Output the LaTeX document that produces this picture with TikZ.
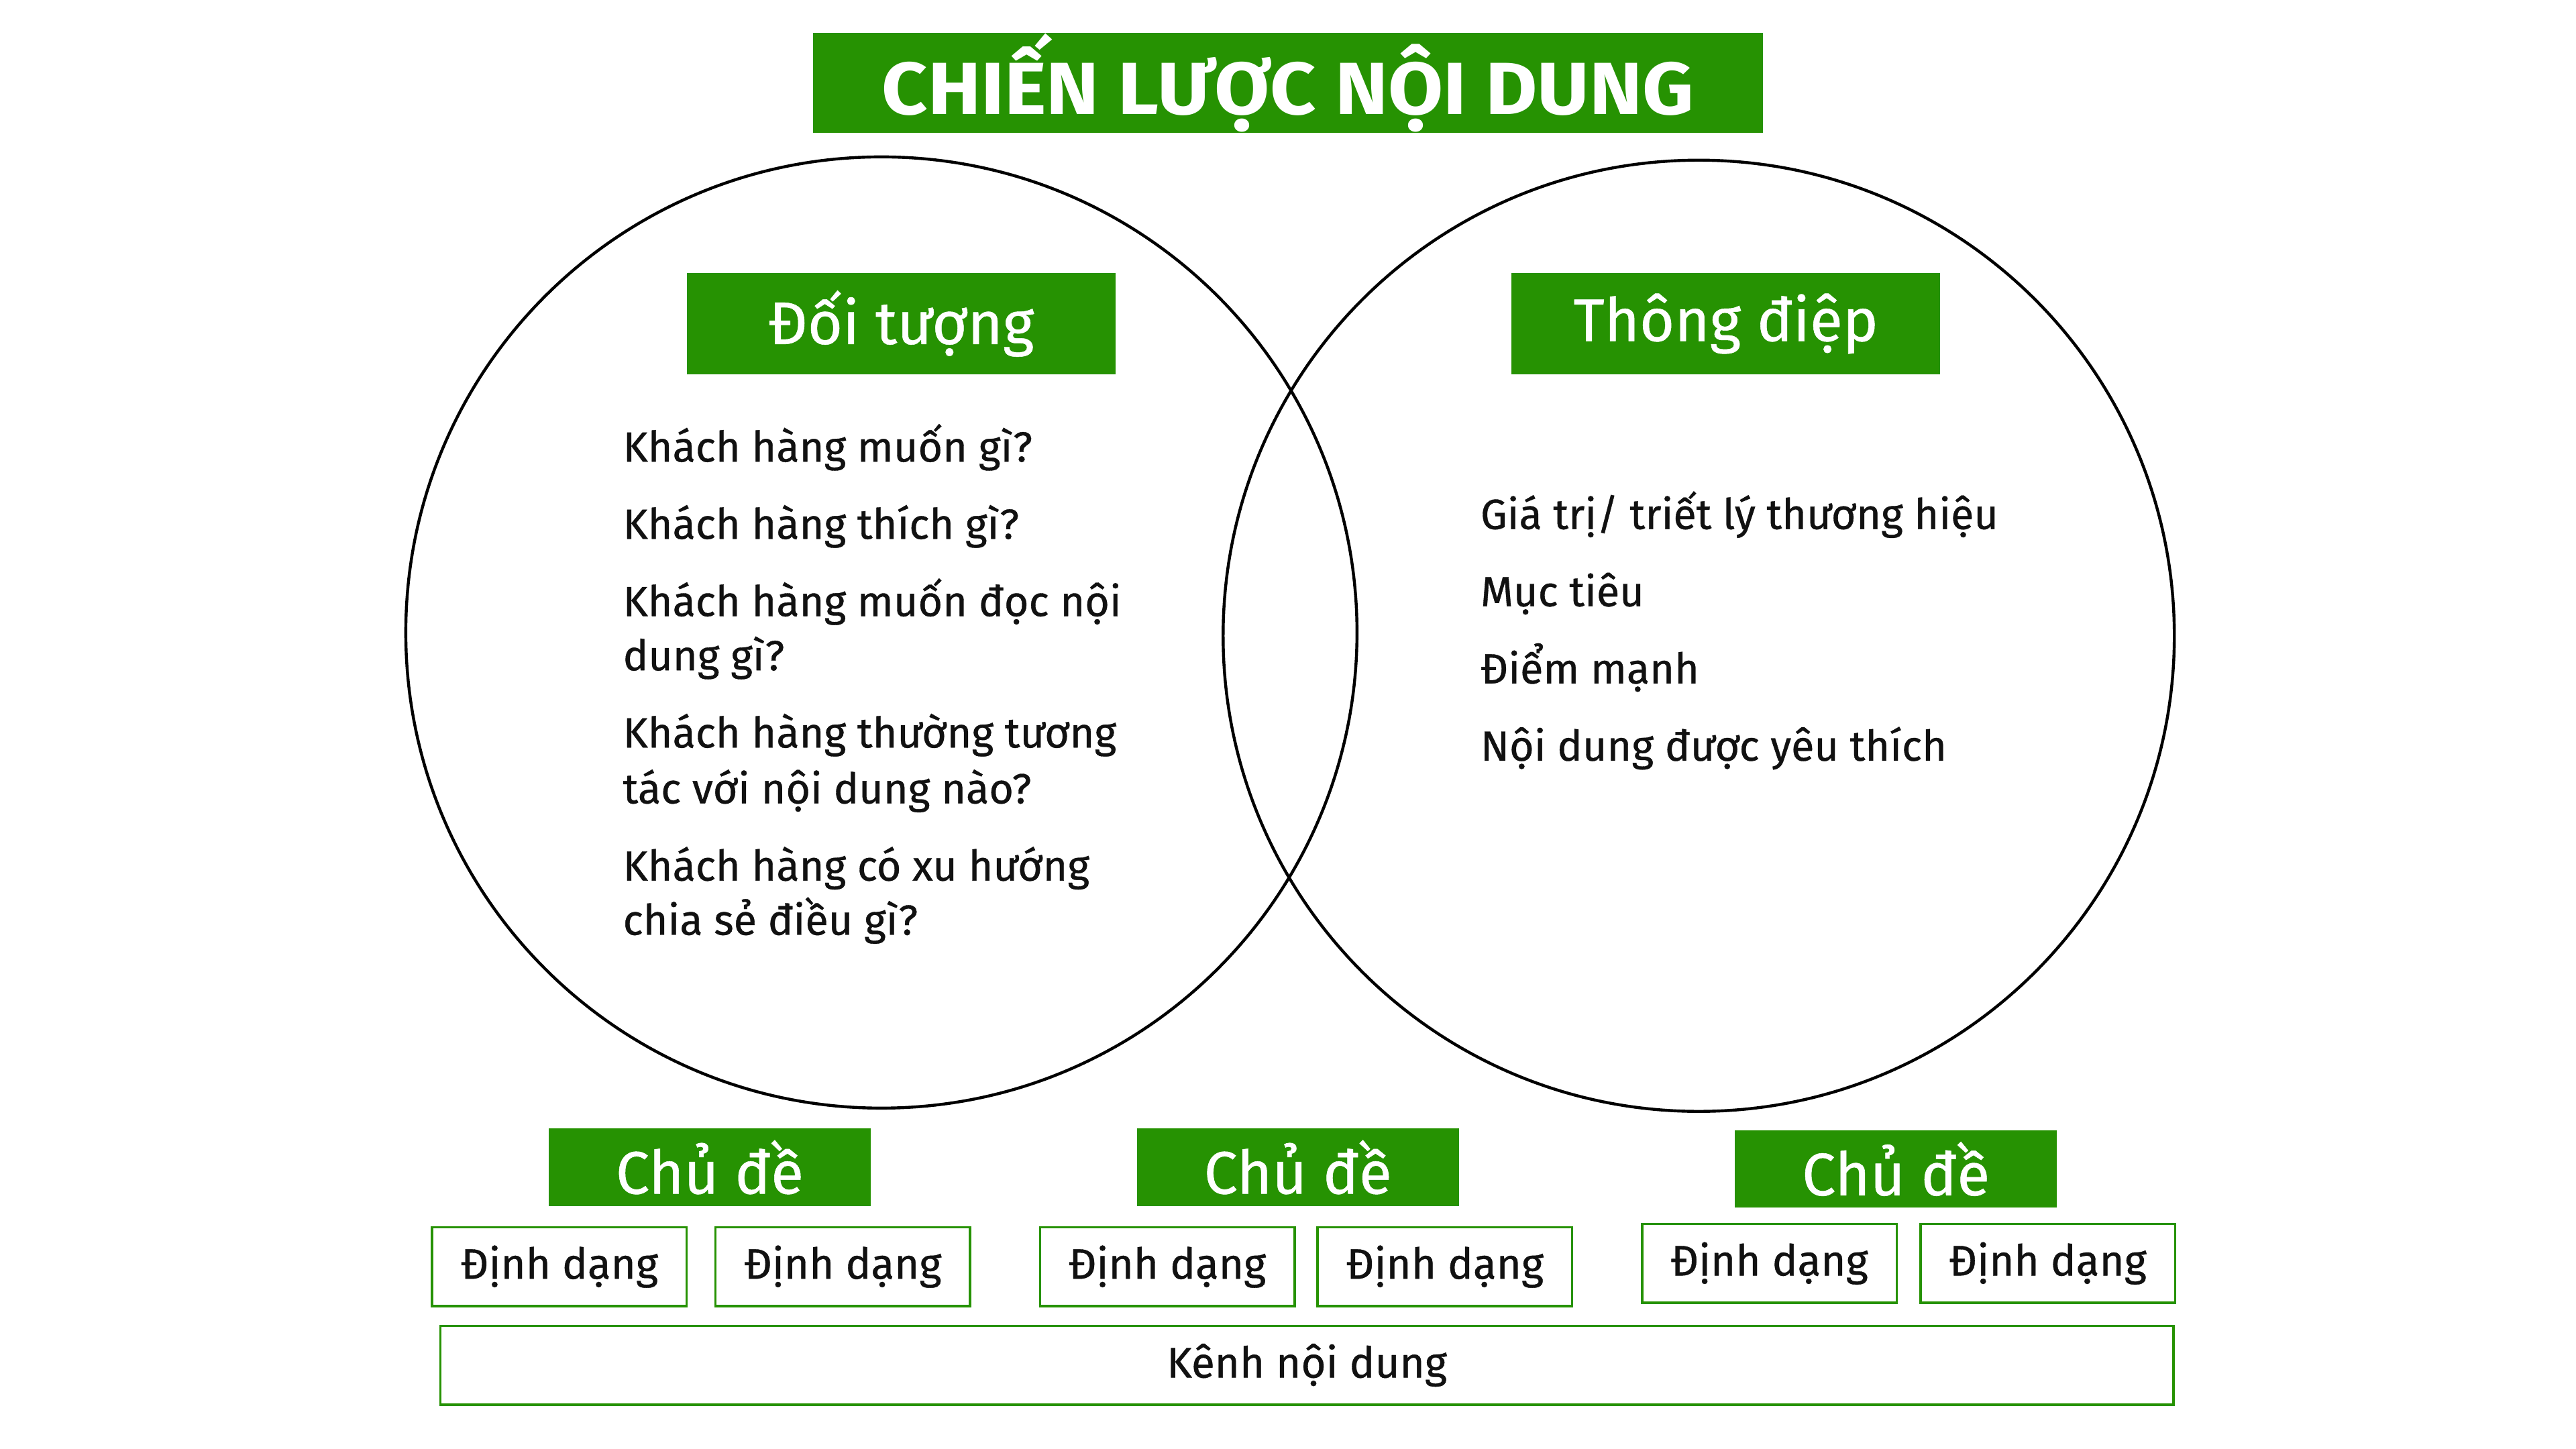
\documentclass[tikz,border=0pt]{standalone}
\usepackage{fontspec}
\setmainfont{Fira Sans}[FakeBold=0.6]
\newfontfamily\titlefont{Fira Sans Bold}[FakeStretch=1.08]
\definecolor{brandgreen}{RGB}{38,146,2}
\definecolor{ink}{RGB}{17,17,17}
\tikzset{
  greenbox/.style={fill=brandgreen, draw=none, inner sep=0pt, text=white, font=\fontsize{36.5}{40}\selectfont},
  fmtbox/.style={draw=brandgreen, line width=1.4pt, inner sep=0pt, minimum width=155pt, minimum height=48pt, text=ink, font=\fontsize{26}{30}\selectfont},
  ring/.style={circle, draw=black, line width=1.8pt, minimum size=579pt, inner sep=0pt},
  bodytext/.style={anchor=base west, inner sep=0pt, text=ink, font=\fontsize{25.7}{30}\selectfont},
}
\begin{document}
\begin{tikzpicture}[x=1pt,y=-1pt]
\useasboundingbox[fill=white] (0,0) rectangle (1568,882);
% circles
\node[ring] (lc) at (536.5,385) {};
\node[ring] (rc) at (1034,387) {};
% title
\node[greenbox, minimum width=578pt, minimum height=61pt, font=\titlefont\fontsize{45}{50}\selectfont] (title) at (784,50.5) {CHIẾN LƯỢC NỘI DUNG};
% headers
\node[greenbox, minimum width=261pt, minimum height=62pt] (aud) at (548.5,197) {Đối tượng};
\node[greenbox, minimum width=261pt, minimum height=62pt] (msg) at (1050.5,197) {Thông điệp};
% left text
\node[bodytext] (l1) at (379,281) {Khách hàng muốn gì?};
\node[bodytext] (l2) at (379,328) {Khách hàng thích gì?};
\node[bodytext] (l3) at (379,375) {Khách hàng muốn đọc nội};
\node[bodytext] (l4) at (379,408) {dung gì?};
\node[bodytext] (l5) at (379,455) {Khách hàng thường tương};
\node[bodytext] (l6) at (379,489) {tác với nội dung nào?};
\node[bodytext] (l7) at (379,536) {Khách hàng có xu hướng};
\node[bodytext] (l8) at (379,569) {chia sẻ điều gì?};
% right text
\node[bodytext] (r1) at (901,322) {Giá trị/ triết lý thương hiệu};
\node[bodytext] (r2) at (901,369) {Mục tiêu};
\node[bodytext] (r3) at (901,416) {Điểm mạnh};
\node[bodytext] (r4) at (901,463) {Nội dung được yêu thích};
% topic boxes
\node[greenbox, minimum width=196pt, minimum height=47pt] (t1) at (432,710.5) {Chủ đề};
\node[greenbox, minimum width=196pt, minimum height=47pt] (t2) at (790,710.5) {Chủ đề};
\node[greenbox, minimum width=196pt, minimum height=47pt] (t3) at (1154,711.5) {Chủ đề};
% format boxes
\node[fmtbox] (f1) at (340.5,771) {Định dạng};
\node[fmtbox] (f2) at (513,771) {Định dạng};
\node[fmtbox] (f3) at (710.5,771) {Định dạng};
\node[fmtbox] (f4) at (879.5,771) {Định dạng};
\node[fmtbox] (f5) at (1077,769) {Định dạng};
\node[fmtbox] (f6) at (1246.5,769) {Định dạng};
% channel
\node[fmtbox, minimum width=1055pt] (ch) at (795.5,831) {Kênh nội dung};
\end{tikzpicture}
\end{document}
